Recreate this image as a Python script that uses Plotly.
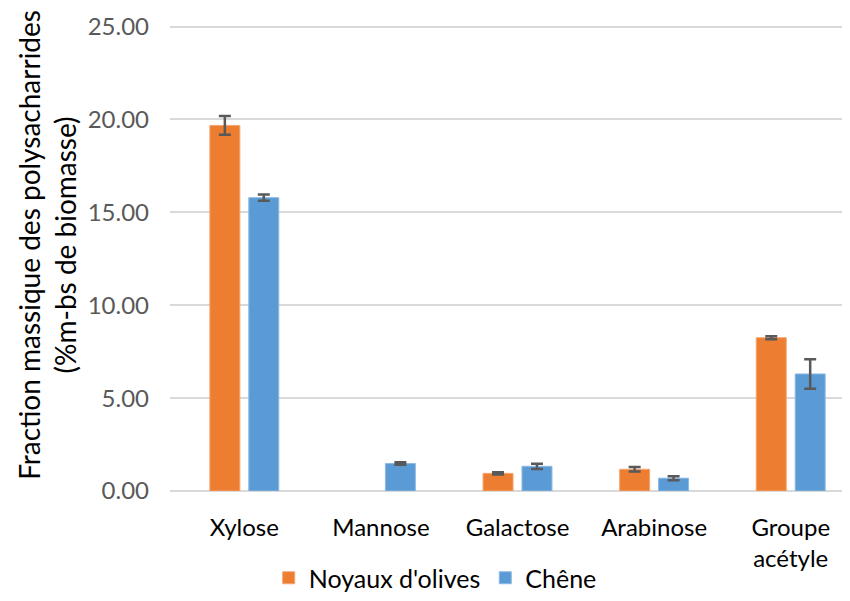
import plotly.graph_objects as go

categories = ["Xylose", "Mannose", "Galactose", "Arabinose", "Groupe acétyle"]
tick_text = ["Xylose", "Mannose", "Galactose", "Arabinose", "Groupe<br>acétyle"]
olives = [19.68, None, 0.95, 1.17, 8.25]
olives_err = [0.5, 0, 0.06, 0.12, 0.08]
chene = [15.79, 1.48, 1.33, 0.69, 6.30]
chene_err = [0.17, 0.07, 0.14, 0.11, 0.79]
y_ticks = [0, 5, 10, 15, 20, 25]

FONT = "Lato"
FS = 24
ERR = dict(type="data", visible=True, color="#595959", thickness=2.5, width=6)

fig = go.Figure()
fig.add_trace(go.Bar(name="Noyaux d'olives", x=categories, y=olives,
                     error_y=dict(array=olives_err, **ERR),
                     marker=dict(color="#ED7D31", line=dict(color="#F4A56F", width=1))))
fig.add_trace(go.Bar(name="Chêne", x=categories, y=chene,
                     error_y=dict(array=chene_err, **ERR),
                     marker=dict(color="#5B9BD5", line=dict(color="#8DB9E3", width=1))))

fig.update_layout(
    width=842, height=593,
    margin=dict(l=162, r=0, t=13, b=109),
    paper_bgcolor="white", plot_bgcolor="white",
    barmode="group", bargap=0.43, bargroupgap=0.23,
    font=dict(family=FONT, size=FS, color="#000000"),
    showlegend=True,
    legend=dict(orientation="h", x=0.39, xref="paper", xanchor="center",
                y=-0.137, yanchor="top", font=dict(size=25, color="#000000"),
                itemclick=False),
    xaxis=dict(range=[-0.544, 4.434], showgrid=False, showline=False, ticks="",
               tickmode="array", tickvals=categories, ticktext=tick_text,
               tickfont=dict(size=FS, color="#000000"), ticklabelstandoff=20),
    yaxis=dict(range=[0, 25.3], tickvals=y_ticks, tickformat=".2f",
               showgrid=True, gridcolor="#D9D9D9", gridwidth=1.5,
               zeroline=True, zerolinecolor="#D9D9D9", zerolinewidth=1.5,
               showline=False, ticks="", ticklabelstandoff=20,
               tickfont=dict(size=FS, color="#595959")),
    annotations=[dict(text="Fraction massique des polysacharrides<br>(%m-bs de biomasse)",
                      xref="paper", yref="paper", x=-0.182, y=0.5244,
                      xanchor="center", yanchor="middle", textangle=-90,
                      showarrow=False, font=dict(size=28, color="#000000"))],
)

fig.write_html("out.html")
